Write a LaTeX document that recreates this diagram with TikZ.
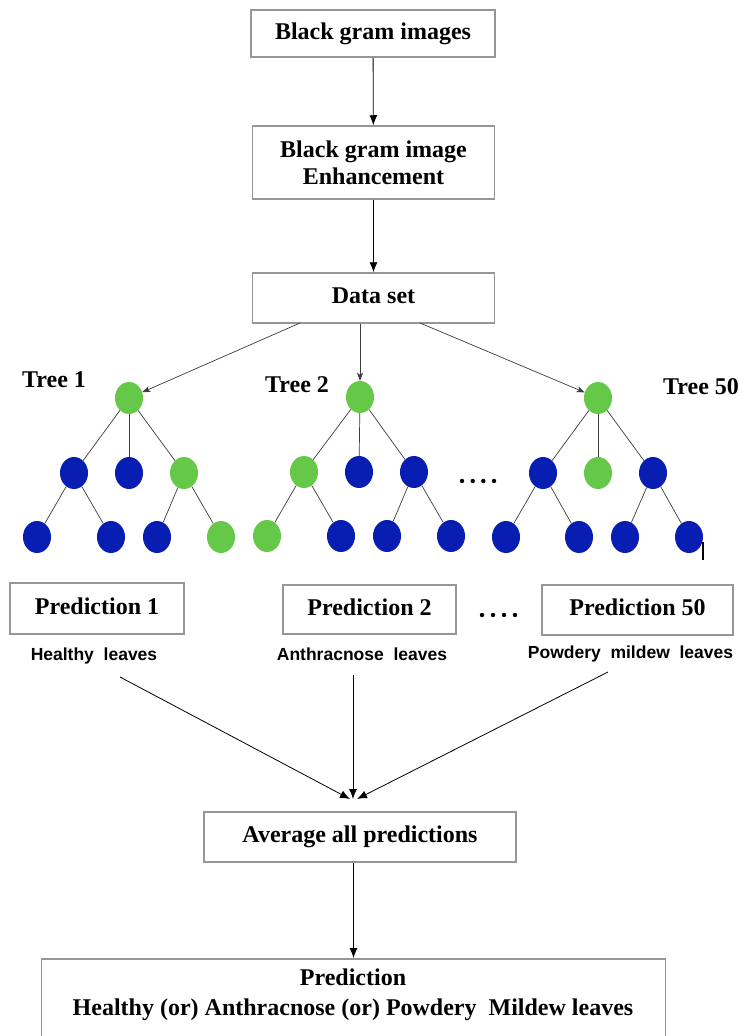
\documentclass[tikz,border=0pt]{standalone}
\usepackage{fontspec}
\setmainfont{Liberation Serif}
\newfontfamily\labsans{Liberation Sans}
\usetikzlibrary{arrows.meta,shapes.geometric}
\definecolor{leafgreen}{RGB}{102,200,72}
\definecolor{nodeblue}{RGB}{8,30,178}
\definecolor{boxgray}{RGB}{150,150,150}
\definecolor{edgegray}{RGB}{60,60,60}
\begin{document}
\begin{tikzpicture}[x=1pt,y=-1pt,
  box/.style={draw=boxgray, line width=1.5pt, fill=white, inner sep=0pt, align=center,
    font=\fontsize{24}{27}\selectfont\bfseries},
  onel/.style={text height=17pt, text depth=6pt},
  serifb/.style={inner sep=0pt, font=\fontsize{24}{27}\selectfont\bfseries},
  leaflab/.style={inner sep=0pt, font=\fontsize{17.5}{20}\selectfont\labsans\bfseries},
  gn/.style={ellipse, fill=leafgreen, minimum width=28pt, minimum height=32pt, inner sep=0pt},
  bn/.style={ellipse, fill=nodeblue, minimum width=28pt, minimum height=32pt, inner sep=0pt},
  edge/.style={draw=edgegray, line width=0.7pt},
  arr/.style={-{Latex[length=10pt,width=8pt]}, line width=0.8pt},
  tarr/.style={-{Stealth[length=8pt,width=6pt,inset=2pt]}, line width=0.7pt, draw=edgegray}]
\useasboundingbox (0,0) rectangle (742,1036);
\fill[white] (0,0) rectangle (742,1036);
\clip (0,0) rectangle (742,1036);

% top flow
\node[box, onel, minimum width=244pt, minimum height=47pt] (img) at (373,33.5) {Black gram images};
\node[box, minimum width=242pt, minimum height=73pt] (enh) at (373.5,162.5) {Black gram image\\Enhancement};
\node[box, onel, minimum width=242pt, minimum height=50pt] (ds) at (373.5,298) {Data set};
\draw[arr] (img) -- (enh);
\draw[arr] (enh) -- (ds);

% trees
\node[gn] (a0) at (129,398) {};
\node[bn] (a1) at (74,473) {};
\node[bn] (a2) at (129,473) {};
\node[gn] (a3) at (184,473) {};
\node[bn] (a4) at (37,537) {};
\node[bn] (a5) at (111,537) {};
\node[bn] (a6) at (157,537) {};
\node[gn] (a7) at (221,537) {};

\node[gn] (b0) at (360,397) {};
\node[gn] (b1) at (304,472) {};
\node[bn] (b2) at (359,472) {};
\node[bn] (b3) at (414,472) {};
\node[gn] (b4) at (267,536) {};
\node[bn] (b5) at (341,536) {};
\node[bn] (b6) at (387,536) {};
\node[bn] (b7) at (451,536) {};

\node[gn] (c0) at (598,398) {};
\node[bn] (c1) at (543,473) {};
\node[gn] (c2) at (598,473) {};
\node[bn] (c3) at (653,473) {};
\node[bn] (c4) at (506,537) {};
\node[bn] (c5) at (579,537) {};
\node[bn] (c6) at (625,537) {};
\node[bn] (c7) at (689,537) {};

\foreach \t in {a,b,c}{
  \draw[edge] (\t0) -- (\t1);
  \draw[edge] (\t0) -- (\t2);
  \draw[edge] (\t0) -- (\t3);
  \draw[edge] (\t1) -- (\t4);
  \draw[edge] (\t1) -- (\t5);
  \draw[edge] (\t3) -- (\t6);
  \draw[edge] (\t3) -- (\t7);
}

\coordinate (dsL) at (300,323);
\coordinate (dsR) at (420,323);
\draw[tarr] (dsL) -- (a0);
\draw[tarr] (ds.south -| b0) -- (b0);
\draw[tarr] (dsR) -- (c0);

\node[serifb, anchor=base west] (t1) at (22,387) {Tree 1};
\node[serifb, anchor=base west] (t2) at (265,392) {Tree 2};
\node[serifb, anchor=base west] (t3) at (663,394) {Tree 50};

\foreach \x in {462,472.7,483.3,494} \fill (\x,481) circle (2.2pt);
\draw[line width=2pt] (703,542) -- (703,560);

% predictions
\node[box, onel, minimum width=174pt, minimum height=51pt] (p1) at (97,608.5) {Prediction 1};
\node[box, onel, minimum width=173pt, minimum height=49pt] (p2) at (369.5,609.5) {Prediction 2};
\node[box, onel, minimum width=191pt, minimum height=50pt] (p3) at (637.5,610) {Prediction 50};
\foreach \x in {482,493,504,515} \fill (\x,615) circle (2.2pt);

\node[leaflab, anchor=base] (l1) at (94,660) {Healthy\ \ leaves};
\node[leaflab, anchor=base] (l2) at (362,660) {Anthracnose\ \ leaves};
\node[leaflab, anchor=base] (l3) at (630.5,658) {Powdery\ \ mildew\ \ leaves};

\coordinate (s1) at (120,677);
\coordinate (s2) at (353,675);
\coordinate (s3) at (608,672);
\coordinate (e1) at (350,799);
\coordinate (e2) at (353,799);
\coordinate (e3) at (357,799);
\draw[arr] (s1) -- (e1);
\draw[arr] (s2) -- (e2);
\draw[arr] (s3) -- (e3);

% average and final
\node[box, onel, minimum width=312pt, minimum height=50pt] (avg) at (360,837) {Average all predictions};
\node[box, minimum width=624pt, minimum height=110pt, anchor=north] (fin) at (353.5,958) {};
\draw[arr] (avg.south -| fin.north) -- (fin.north);
\node[serifb, anchor=base] (fp) at (353,985) {Prediction};
\node[serifb, anchor=base] (fh) at (353,1015) {Healthy (or) Anthracnose (or) Powdery\ \ Mildew leaves};
\end{tikzpicture}
\end{document}
